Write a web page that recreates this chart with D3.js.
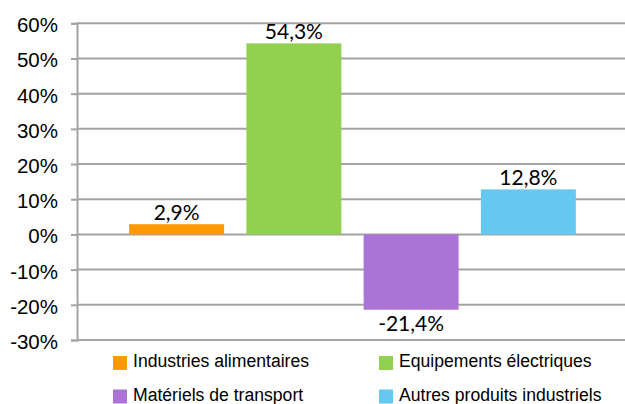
<!DOCTYPE html>
<html>
<head>
<meta charset="utf-8">
<script src="https://cdn.jsdelivr.net/npm/d3@7"></script>
<style>
  html, body { margin: 0; padding: 0; background: #fff; }
  svg { display: block; }
</style>
</head>
<body>
<svg id="chart" width="625" height="404"></svg>
<script>
// Growth by industry (percent)
const series = ["Industries alimentaires", "Equipements électriques", "Matériels de transport", "Autres produits industriels"];
const values = [2.9, 54.3, -21.4, 12.8];
const labels = ["2,9%", "54,3%", "-21,4%", "12,8%"];
const colors = ["#FF9900", "#92D050", "#A974D5", "#65C8F0"];
const yTicks = [-30, -20, -10, 0, 10, 20, 30, 40, 50, 60];

const svg = d3.select("#chart");
const plotLeft = 77, plotRight = 625, plotTop = 23.3, plotBottom = 340;

const y = d3.scaleLinear().domain([-30, 60]).range([plotBottom, plotTop]);
const x = d3.scaleBand().domain(series).range([118, 587])
  .paddingInner(0.19).paddingOuter(0.095);

// horizontal gridlines
svg.append("g").selectAll("line").data(yTicks).join("line")
  .attr("x1", plotLeft).attr("x2", plotRight)
  .attr("y1", d => y(d)).attr("y2", d => y(d))
  .attr("stroke", "#a3a3a3").attr("stroke-width", 2);

// y axis with percent labels
const yAxis = d3.axisLeft(y).tickValues(yTicks).tickSize(6).tickPadding(13)
  .tickFormat(d => d + "%");
const ga = svg.append("g").attr("transform", `translate(${plotLeft},0)`).call(yAxis);
ga.select(".domain").attr("stroke", "#a3a3a3").attr("stroke-width", 2);
ga.selectAll(".tick line").attr("stroke", "#a3a3a3").attr("stroke-width", 2);
ga.selectAll(".tick text")
  .attr("font-family", "'Liberation Sans', Arial, sans-serif")
  .attr("font-size", 20.5).attr("fill", "#000").attr("dy", "0.41em");

// bars
svg.append("g").selectAll("rect").data(series).join("rect")
  .attr("x", d => x(d))
  .attr("width", x.bandwidth())
  .attr("y", (d, i) => y(Math.max(0, values[i])))
  .attr("height", (d, i) => Math.abs(y(values[i]) - y(0)))
  .attr("fill", (d, i) => colors[i]);

// value labels
svg.append("g").selectAll("text").data(series).join("text")
  .attr("x", d => x(d) + x.bandwidth() / 2)
  .attr("y", (d, i) => values[i] >= 0 ? y(values[i]) - 4 : y(values[i]) + 21)
  .attr("text-anchor", "middle")
  .attr("font-family", "Lato, 'Open Sans', sans-serif")
  .attr("font-size", 21).attr("fill", "#000")
  .text((d, i) => labels[i]);

// legend: two columns, two rows
const legendCols = [113, 379], legendRows = [356, 389.5];
const lg = svg.append("g").selectAll("g").data(series).join("g")
  .attr("transform", (d, i) => `translate(${legendCols[i % 2]},${legendRows[Math.floor(i / 2)]})`);
lg.append("rect").attr("width", 14).attr("height", 14).attr("fill", (d, i) => colors[i]);
lg.append("text").attr("x", 20).attr("y", 11)
  .attr("font-family", "'Liberation Sans', Arial, sans-serif")
  .attr("font-size", 17.6).attr("fill", "#000")
  .text(d => d);
</script>
</body>
</html>
